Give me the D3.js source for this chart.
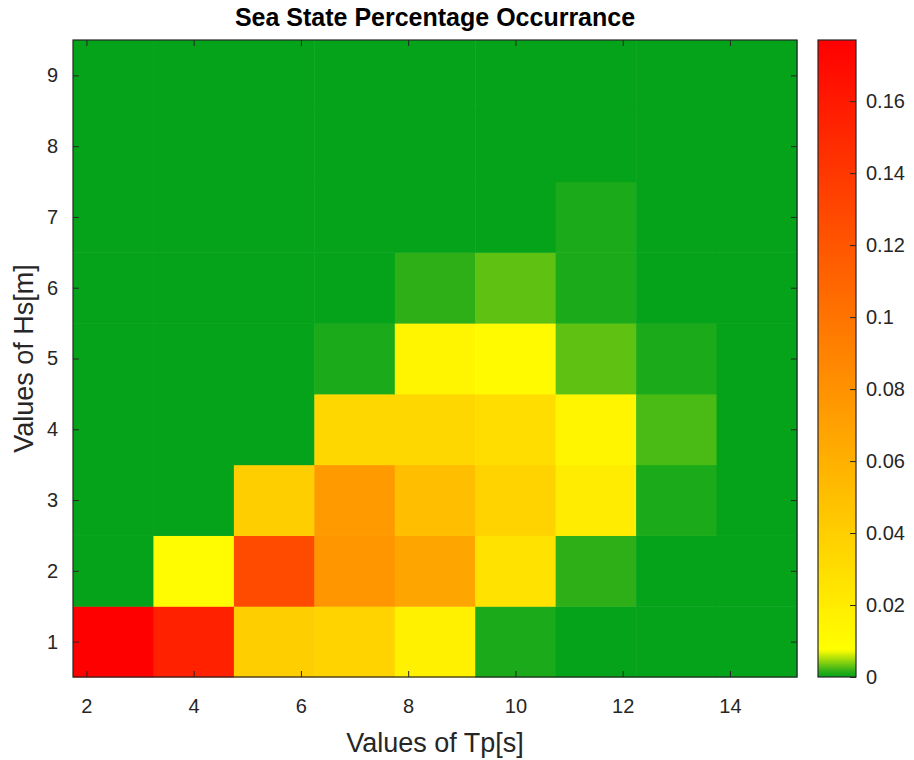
<!DOCTYPE html>
<html lang="en">
<head>
    <meta charset="UTF-8">
    <title>Sea State Percentage Occurrance</title>
    <style>
        body { margin: 0; background: #fff; }
        text { font-family: "Liberation Sans", Arial, Helvetica, sans-serif; }
    </style>
</head>
<body>
<svg></svg>
<script src="https://cdn.jsdelivr.net/npm/d3@7/dist/d3.min.js"></script>
<script>
    // peak period Tp [s] (column centres) and significant wave height Hs [m]
    const tpValues = [2.5, 4, 5.5, 7, 8.5, 10, 11.5, 13, 14.5];
    const hsValues = [1, 2, 3, 4, 5, 6, 7, 8, 9];

    // occurrence, one row per Hs, one entry per Tp
    const hs1 = [0.177, 0.155, 0.040, 0.037, 0.017, 0.0009, 0, 0, 0];
    const hs2 = [0, 0.010, 0.127, 0.077, 0.067, 0.027, 0.0016, 0, 0];
    const hs3 = [0, 0, 0.040, 0.074, 0.050, 0.037, 0.020, 0.0009, 0];
    const hs4 = [0, 0, 0, 0.034, 0.034, 0.030, 0.014, 0.0024, 0];
    const hs5 = [0, 0, 0, 0.0009, 0.014, 0.011, 0.0030, 0.0009, 0];
    const hs6 = [0, 0, 0, 0, 0.0016, 0.0030, 0.0009, 0, 0];
    const hs7 = [0, 0, 0, 0, 0, 0, 0.0009, 0, 0];
    const hs8 = [0, 0, 0, 0, 0, 0, 0, 0, 0];
    const hs9 = [0, 0, 0, 0, 0, 0, 0, 0, 0];
    const occurrence = [hs1, hs2, hs3, hs4, hs5, hs6, hs7, hs8, hs9];

    const xTicks = [2, 4, 6, 8, 10, 12, 14];
    const yTicks = [1, 2, 3, 4, 5, 6, 7, 8, 9];
    const cTicks = [0, 0.02, 0.04, 0.06, 0.08, 0.1, 0.12, 0.14, 0.16];

    const width = 914, height = 760;
    const plot = {left: 73, right: 797, top: 40, bottom: 677};
    const bar = {left: 818, right: 856};
    const ink = "#262626";
    const tickLen = 6;
    const tickFont = "20px";
    const labelFont = "27px";

    const cells = [];
    occurrence.forEach((row, i) => row.forEach((v, j) =>
        cells.push({tp: tpValues[j], hs: hsValues[i], v: v})));

    const vmax = d3.max(cells, d => d.v);
    const dTp = tpValues[1] - tpValues[0];

    const x = d3.scaleLinear()
        .domain([tpValues[0] - dTp / 2, tpValues[tpValues.length - 1] + dTp / 2])
        .range([plot.left, plot.right]);
    const y = d3.scaleLinear()
        .domain([hsValues[0] - 0.5, hsValues[hsValues.length - 1] + 0.5])
        .range([plot.bottom, plot.top]);
    const c = d3.scaleLinear()
        .domain([0, vmax])
        .range([plot.bottom, plot.top]);

    // green for (near) zero, then yellow to red
    const color = d3.scaleLinear()
        .domain([0, 0.0015, 0.0075, vmax])
        .range(["#04a31a", "#2aae18", "#ffff00", "#ff0000"])
        .clamp(true);

    const svg = d3.select("svg")
        .attr("width", width)
        .attr("height", height);

    svg.append("g")
        .selectAll("rect")
        .data(cells)
        .join("rect")
        .attr("x", d => x(d.tp - dTp / 2))
        .attr("y", d => y(d.hs + 0.5))
        .attr("width", d => x(d.tp + dTp / 2) - x(d.tp - dTp / 2) + 0.5)
        .attr("height", d => y(d.hs - 0.5) - y(d.hs + 0.5) + 0.5)
        .attr("fill", d => color(d.v));

    // axes, MATLAB style: ticks inside, box on
    const xAxis = svg.append("g")
        .attr("transform", `translate(0,${plot.bottom})`)
        .call(d3.axisBottom(x).tickValues(xTicks).tickSizeInner(-tickLen).tickSizeOuter(0).tickPadding(22));
    const xTop = svg.append("g")
        .attr("transform", `translate(0,${plot.top})`)
        .call(d3.axisTop(x).tickValues(xTicks).tickSizeInner(-tickLen).tickSizeOuter(0).tickFormat(""));
    const yAxis = svg.append("g")
        .attr("transform", `translate(${plot.left},0)`)
        .call(d3.axisLeft(y).tickValues(yTicks).tickSizeInner(-tickLen).tickSizeOuter(0).tickPadding(15));
    const yRight = svg.append("g")
        .attr("transform", `translate(${plot.right},0)`)
        .call(d3.axisRight(y).tickValues(yTicks).tickSizeInner(-tickLen).tickSizeOuter(0).tickFormat(""));

    [xAxis, xTop, yAxis, yRight].forEach(g => {
        g.select(".domain").remove();
        g.selectAll(".tick line").attr("stroke", ink);
        g.selectAll(".tick text")
            .attr("fill", ink)
            .style("font-size", tickFont);
    });

    svg.append("rect")
        .attr("x", plot.left)
        .attr("y", plot.top)
        .attr("width", plot.right - plot.left)
        .attr("height", plot.bottom - plot.top)
        .attr("fill", "none")
        .attr("stroke", ink)
        .attr("stroke-width", 1.2);

    // colorbar
    const grad = svg.append("defs").append("linearGradient")
        .attr("id", "cbar")
        .attr("x1", 0).attr("y1", 1).attr("x2", 0).attr("y2", 0);
    d3.range(0, 1.0001, 0.004).forEach(t => {
        grad.append("stop")
            .attr("offset", t)
            .attr("stop-color", color(t * vmax));
    });
    svg.append("rect")
        .attr("x", bar.left)
        .attr("y", plot.top)
        .attr("width", bar.right - bar.left)
        .attr("height", plot.bottom - plot.top)
        .attr("fill", "url(#cbar)")
        .attr("stroke", ink)
        .attr("stroke-width", 1.2);

    const cAxis = svg.append("g")
        .attr("transform", `translate(${bar.right},0)`)
        .call(d3.axisRight(c).tickValues(cTicks).tickSizeInner(-tickLen).tickSizeOuter(0)
            .tickPadding(10).tickFormat(d3.format("~g")));
    cAxis.select(".domain").remove();
    cAxis.selectAll(".tick line").attr("stroke", ink);
    cAxis.selectAll(".tick text")
        .attr("fill", ink)
        .style("font-size", tickFont);

    // titles
    svg.append("text")
        .attr("x", (plot.left + plot.right) / 2)
        .attr("y", 26)
        .attr("text-anchor", "middle")
        .attr("fill", "#000")
        .style("font-size", "25px")
        .style("font-weight", "bold")
        .text("Sea State Percentage Occurrance");

    svg.append("text")
        .attr("x", (plot.left + plot.right) / 2)
        .attr("y", 752)
        .attr("text-anchor", "middle")
        .attr("fill", ink)
        .style("font-size", labelFont)
        .text("Values of Tp[s]");

    svg.append("text")
        .attr("transform", `translate(33,${(plot.top + plot.bottom) / 2}) rotate(-90)`)
        .attr("text-anchor", "middle")
        .attr("fill", ink)
        .style("font-size", labelFont)
        .text("Values of Hs[m]");
</script>
</body>
</html>
